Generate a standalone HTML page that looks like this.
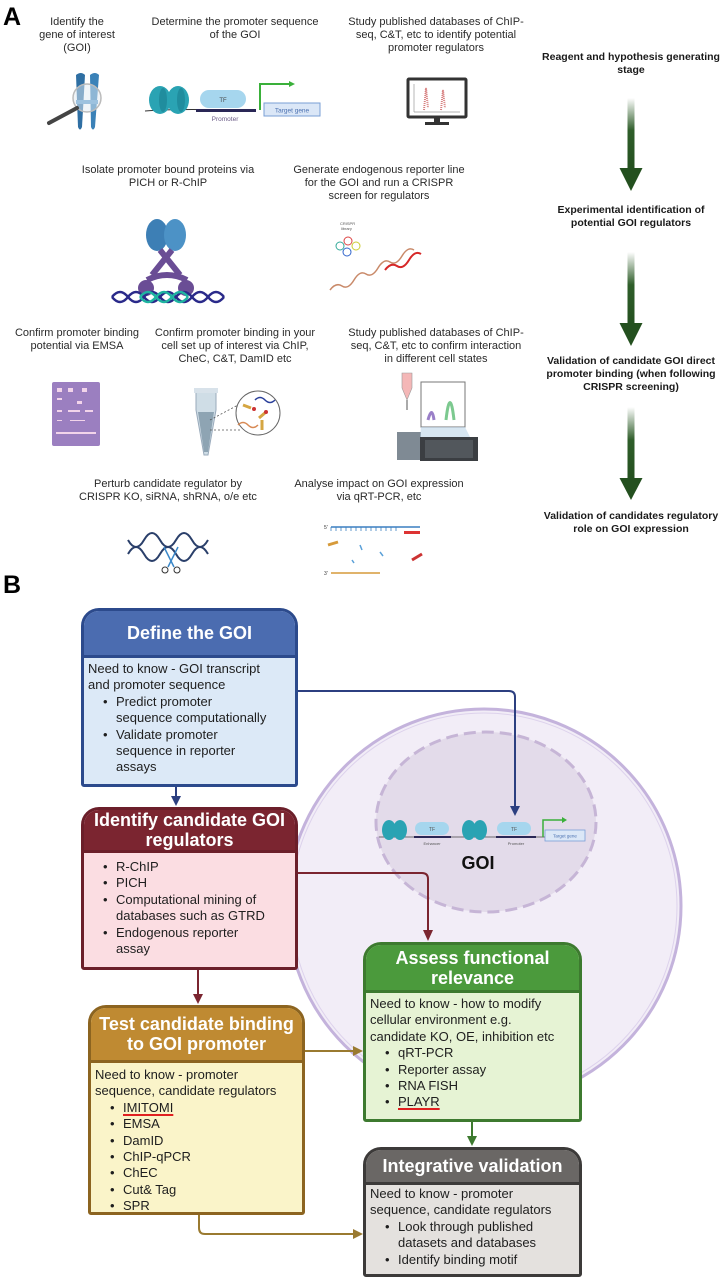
<!DOCTYPE html>
<html><head><meta charset="utf-8">
<style>
*{margin:0;padding:0;box-sizing:border-box}
body{width:725px;height:1280px;background:#fff;position:relative;overflow:hidden;font-family:"Liberation Sans",Arial,sans-serif;color:#222}
.t{position:absolute;font-size:11px;line-height:13px;text-align:center;white-space:nowrap;color:#2a2a2a}
.b{font-weight:bold;font-size:10.5px;color:#1a1a1a}
.lab{position:absolute;font-weight:bold;font-size:25px;color:#000}
.box{position:absolute;border:3px solid;border-radius:18px 18px 3px 3px;overflow:hidden}
.hd{color:#fff;font-weight:bold;font-size:18px;line-height:20px;text-align:center;display:flex;align-items:center;justify-content:center;border-bottom:3px solid}
.bd{font-size:13px;line-height:16.4px;padding-left:4px;white-space:nowrap;color:#1e1e1e}
.bd ul{list-style:none;padding-left:28px}
.bd li{position:relative}
.bd li:before{content:"•";position:absolute;left:-13px}
.u{text-decoration:underline;text-decoration-color:#e02020;text-decoration-thickness:2px;text-underline-offset:2px}
svg{position:absolute;left:0;top:0}
</style></head><body>

<div class="lab" style="left:3px;top:3px">A</div>
<div class="lab" style="left:3px;top:571px">B</div>

<div class="t" style="left:17px;top:16px;width:120px">Identify the<br>gene of interest<br>(GOI)</div>
<div class="t" style="left:135px;top:16px;width:200px">Determine the promoter sequence<br>of the GOI</div>
<div class="t" style="left:326px;top:16px;width:220px">Study published databases of ChIP-<br>seq, C&amp;T, etc to identify potential<br>promoter regulators</div>
<div class="t" style="left:58px;top:164px;width:220px">Isolate promoter bound proteins via<br>PICH or R-ChIP</div>
<div class="t" style="left:279px;top:164px;width:200px">Generate endogenous reporter line<br>for the GOI and run a CRISPR<br>screen for regulators</div>
<div class="t" style="left:2px;top:327px;width:150px">Confirm promoter binding<br>potential via EMSA</div>
<div class="t" style="left:135px;top:327px;width:200px">Confirm promoter binding in your<br>cell set up of interest via ChIP,<br>CheC, C&amp;T, DamID etc</div>
<div class="t" style="left:326px;top:327px;width:220px">Study published databases of ChIP-<br>seq, C&amp;T, etc to confirm interaction<br>in different cell states</div>
<div class="t" style="left:58px;top:478px;width:220px">Perturb candidate regulator by<br>CRISPR KO, siRNA, shRNA, o/e etc</div>
<div class="t" style="left:279px;top:478px;width:200px">Analyse impact on GOI expression<br>via qRT-PCR, etc</div>

<div class="t b" style="left:536px;top:51px;width:190px">Reagent and hypothesis generating<br>stage</div>
<div class="t b" style="left:536px;top:204px;width:190px">Experimental identification of<br>potential GOI regulators</div>
<div class="t b" style="left:536px;top:355px;width:190px">Validation of candidate GOI direct<br>promoter binding (when following<br>CRISPR screening)</div>
<div class="t b" style="left:536px;top:510px;width:190px">Validation of candidates regulatory<br>role on GOI expression</div>

<svg width="725" height="580" viewBox="0 0 725 580">
<defs>
<linearGradient id="ga" x1="0" y1="0" x2="0" y2="1"><stop offset="0" stop-color="#2f5e2a" stop-opacity="0"/><stop offset="0.45" stop-color="#2f5e2a"/><stop offset="1" stop-color="#24501f"/></linearGradient>
</defs>
<rect x="627.5" y="98" width="7" height="72" fill="url(#ga)"/><polygon points="619.5,168 642.5,168 631,191" fill="#24501f"/>
<rect x="627.5" y="252" width="7" height="73" fill="url(#ga)"/><polygon points="619.5,323 642.5,323 631,346" fill="#24501f"/>
<rect x="627.5" y="407" width="7" height="73" fill="url(#ga)"/><polygon points="619.5,478 642.5,478 631,500" fill="#24501f"/>

<g>
<path d="M76,75 q5,-4 9,0 l-3,52 q-2,5 -4,0z" fill="#2f6fa3"/>
<path d="M90,75 q5,-4 9,0 l-4,52 q-2,5 -4,0z" fill="#3b82b8"/>
<rect x="76" y="100" width="22" height="4" fill="#5a9bcc"/>
<circle cx="87" cy="98" r="14" fill="#dfe9f2" fill-opacity="0.5" stroke="#bbb" stroke-width="1.5"/>
<line x1="77" y1="108" x2="49" y2="123" stroke="#444" stroke-width="4" stroke-linecap="round"/>
</g>
<g>
<path d="M145,111 q40,-3 110,0" stroke="#333" fill="none" stroke-width="1"/>
<ellipse cx="160" cy="100" rx="11" ry="14" fill="#2aa3b3"/><ellipse cx="163" cy="100" rx="4" ry="12" fill="#1b7f8f" fill-opacity="0.6"/>
<ellipse cx="178" cy="100" rx="11" ry="14" fill="#2aa3b3"/><ellipse cx="181" cy="100" rx="4" ry="12" fill="#1b7f8f" fill-opacity="0.6"/>
<rect x="200" y="90" width="46" height="18" rx="9" fill="#a6d6ee"/>
<text x="223" y="102" font-size="6" text-anchor="middle" fill="#444" font-family="Liberation Sans">TF</text>
<rect x="196" y="109" width="60" height="3" fill="#2a2756"/>
<text x="225" y="121" font-size="6.5" text-anchor="middle" fill="#6a5a86" font-family="Liberation Sans">Promoter</text>
<path d="M260,110 v-26 h30" stroke="#3ab03a" stroke-width="2" fill="none"/><polygon points="289,81 295,84 289,87" fill="#3ab03a"/>
<rect x="264" y="103" width="56" height="13" fill="#dbe7f7" stroke="#7a9fd6"/>
<text x="292" y="112.5" font-size="6.5" text-anchor="middle" fill="#4a70b0" font-family="Liberation Sans">Target gene</text>
</g>
<g>
<rect x="408" y="79" width="58" height="38" rx="1" fill="#fff" stroke="#333" stroke-width="3"/>
<line x1="414" y1="84" x2="414" y2="112" stroke="#999" stroke-width="0.7"/>
<line x1="414" y1="112" x2="460" y2="112" stroke="#999" stroke-width="0.7"/>
<path d="M424,110 l2,-22 2,20 M441,110 l2,-20 2,18" stroke="#d67b7b" stroke-width="2" fill="none" stroke-dasharray="1 1"/>
<rect x="434" y="117" width="6" height="5" fill="#333"/><rect x="425" y="122" width="24" height="3" fill="#333"/>
</g>
<g>
<ellipse cx="157" cy="235" rx="11" ry="16" fill="#3d7fb5"/><ellipse cx="175" cy="235" rx="11" ry="16" fill="#4c92c6"/>
<path d="M160,250 L180,275 M172,250 L152,275" stroke="#6a4d95" stroke-width="6"/>
<ellipse cx="146" cy="288" rx="8" ry="8" fill="#6a4d95"/><ellipse cx="186" cy="288" rx="8" ry="8" fill="#6a4d95"/>
<path d="M147,280 q20,-10 40,0" stroke="#6a4d95" stroke-width="6" fill="none"/>
<path d="M112,297 q8,-10 16,0 t16,0 t16,0 t16,0 t16,0 t16,0 t16,0" stroke="#2a2a8a" stroke-width="2.5" fill="none"/>
<path d="M112,297 q8,10 16,0 t16,0 t16,0 t16,0 t16,0 t16,0 t16,0" stroke="#2a2a8a" stroke-width="2.5" fill="none"/>
<path d="M140,297 q8,-10 16,0 t16,0 t16,0" stroke="#1fb3a0" stroke-width="2.5" fill="none"/>
<path d="M140,297 q8,10 16,0 t16,0 t16,0" stroke="#1fb3a0" stroke-width="2.5" fill="none"/>
</g>
<g>
<text x="340" y="225" font-size="4" fill="#555">CRISPR</text><text x="341" y="230" font-size="4" fill="#555">library</text>
<circle cx="340" cy="246" r="4" fill="none" stroke="#3a9" stroke-width="1"/><circle cx="348" cy="241" r="4" fill="none" stroke="#d44" stroke-width="1"/><circle cx="356" cy="246" r="4" fill="none" stroke="#cc3" stroke-width="1"/><circle cx="347" cy="252" r="4" fill="none" stroke="#36c" stroke-width="1"/>
<path d="M330,290 q6,-8 12,-4 t12,-6 t12,-6 t12,-6 t12,-6 t12,-6 t12,-6" stroke="#c98a6a" stroke-width="1.5" fill="none"/>
<path d="M385,270 q6,-8 12,-4 t12,-6 t12,-6" stroke="#d62828" stroke-width="2" fill="none"/>
</g>
<g>
<rect x="52" y="382" width="48" height="64" rx="2" fill="#9b7fc0"/>
<g fill="#f2d4ea"><rect x="57" y="388" width="5" height="4"/><rect x="68" y="388" width="5" height="4"/><rect x="82" y="388" width="5" height="4"/><rect x="57" y="398" width="5" height="2"/><rect x="77" y="401" width="5" height="3"/><rect x="57" y="410" width="5" height="2"/><rect x="68" y="410" width="12" height="2"/><rect x="85" y="410" width="8" height="2"/><rect x="57" y="420" width="5" height="1"/><rect x="70" y="420" width="15" height="1"/><rect x="56" y="432" width="40" height="2"/></g>
</g>
<g>
<path d="M196,392 h20 v18 l-8,45 h-4 l-8,-45z" fill="#cfdde6" stroke="#9ab" stroke-width="1"/>
<rect x="194" y="388" width="24" height="5" fill="#d8e2ea"/>
<path d="M198,412 h16 l-6,40 h-4z" fill="#8ea4b3"/>
<circle cx="258" cy="413" r="22" fill="#fff" stroke="#666" stroke-width="1"/>
<path d="M238,425 q5,-5 10,0 t10,0" stroke="#d88a55" stroke-width="1.5" fill="none"/>
<path d="M255,400 q5,-5 10,0 t10,0" stroke="#2a3f9a" stroke-width="1.5" fill="none"/>
<path d="M243,405 l8,3 M259,418 l7,-6 M262,420 v10" stroke="#d5a642" stroke-width="3"/>
<circle cx="254" cy="409" r="2" fill="#c33"/><circle cx="266" cy="412" r="2" fill="#c33"/>
<path d="M210,420 L238,405 M210,430 L240,430" stroke="#555" stroke-width="0.8" stroke-dasharray="2 2"/>
</g>
<g>
<path d="M402,373 h10 v15 l-5,12 l-5,-12z" fill="#f4b7b7" stroke="#999" stroke-width="0.6"/>
<line x1="407" y1="400" x2="407" y2="410" stroke="#555"/>
<rect x="421" y="382" width="44" height="45" fill="#fff" stroke="#777"/>
<path d="M428,420 q4,-15 6,0" stroke="#9a7fc8" stroke-width="3" fill="none"/>
<path d="M446,420 q4,-35 8,0" stroke="#7cc98f" stroke-width="3" fill="none"/>
<rect x="397" y="432" width="24" height="28" fill="#7f8a94"/>
<rect x="420" y="437" width="58" height="24" fill="#3b3e42"/>
<rect x="425" y="440" width="48" height="18" fill="#52575c"/>
<polygon points="421,427 465,427 470,437 420,437" fill="#bcd6e8" fill-opacity="0.6"/>
</g>
<g>
<path d="M128,540 q8,14 16,0 t16,0 t16,0 t16,0 t16,0" stroke="#2a3f6a" stroke-width="2" fill="none"/>
<path d="M128,554 q8,-14 16,0 t16,0 t16,0 t16,0 t16,0" stroke="#2a3f6a" stroke-width="2" fill="none"/>
<path d="M164,547 l10,20 M178,547 l-10,20" stroke="#3b88c9" stroke-width="1.5"/>
<circle cx="165" cy="570" r="3" fill="none" stroke="#333"/><circle cx="177" cy="570" r="3" fill="none" stroke="#333"/>
</g>
<g>
<text x="324" y="529" font-size="5" fill="#333">5'</text>
<line x1="331" y1="527" x2="420" y2="527" stroke="#3a7fc0" stroke-width="1.5"/>
<path d="M331,527 v4 M336,527 v4 M341,527 v4 M346,527 v4 M351,527 v4 M356,527 v4 M361,527 v4 M366,527 v4 M371,527 v4 M376,527 v4 M381,527 v4 M386,527 v4 M391,527 v4 M396,527 v4" stroke="#3a7fc0" stroke-width="0.8"/>
<rect x="404" y="531" width="16" height="3" fill="#d33"/>
<path d="M328,545 l10,-3" stroke="#d69a3a" stroke-width="3"/>
<path d="M360,545 l2,5 M380,552 l3,4 M352,560 l2,3" stroke="#5aa0d8" stroke-width="1.5"/>
<path d="M412,560 l10,-6" stroke="#c33" stroke-width="3"/>
<text x="324" y="575" font-size="5" fill="#333">3'</text>
<line x1="331" y1="573" x2="380" y2="573" stroke="#d69a3a" stroke-width="1.5"/>
</g>
</svg>

<svg width="725" height="1280" viewBox="0 0 725 1280" style="top:0">
<circle cx="484" cy="906" r="197" fill="#f2edf7" stroke="#c4b3dc" stroke-width="3"/>
<circle cx="484" cy="906" r="193" fill="none" stroke="#ddd2ec" stroke-width="1"/>
<ellipse cx="486" cy="822" rx="110" ry="90" fill="#e3dbea" stroke="#c6b5d6" stroke-width="3" stroke-dasharray="12 6"/>
<g>
<line x1="379" y1="837" x2="545" y2="837" stroke="#444" stroke-width="0.8"/>
<ellipse cx="389" cy="830" rx="7" ry="10" fill="#2aa3b3"/><ellipse cx="400" cy="830" rx="7" ry="10" fill="#2aa3b3"/>
<rect x="415" y="822" width="34" height="13" rx="6.5" fill="#a6d6ee"/><text x="432" y="831" font-size="5" text-anchor="middle" fill="#555" font-family="Liberation Sans">TF</text>
<rect x="414" y="836" width="37" height="2" fill="#2a2756"/>
<text x="432" y="845" font-size="4" text-anchor="middle" fill="#555" font-family="Liberation Sans">Enhancer</text>
<ellipse cx="469" cy="830" rx="7" ry="10" fill="#2aa3b3"/><ellipse cx="480" cy="830" rx="7" ry="10" fill="#2aa3b3"/>
<rect x="497" y="822" width="34" height="13" rx="6.5" fill="#a6d6ee"/><text x="514" y="831" font-size="5" text-anchor="middle" fill="#555" font-family="Liberation Sans">TF</text>
<rect x="496" y="836" width="40" height="2" fill="#2a2756"/>
<text x="516" y="845" font-size="4" text-anchor="middle" fill="#555" font-family="Liberation Sans">Promoter</text>
<path d="M543,837 v-17 h20" stroke="#3ab03a" stroke-width="1.5" fill="none"/><polygon points="562,817 567,820 562,823" fill="#3ab03a"/>
<rect x="545" y="830" width="40" height="11" fill="#dbe7f7" stroke="#7a9fd6" stroke-width="0.8"/>
<text x="565" y="837.5" font-size="4.5" text-anchor="middle" fill="#4a70b0" font-family="Liberation Sans">Target gene</text>
<text x="478" y="869" font-size="18" font-weight="bold" text-anchor="middle" fill="#111" font-family="Liberation Sans">GOI</text>
</g>
</svg>

<div class="box" style="left:81px;top:608px;width:217px;height:179px;border-color:#2c4a8c;background:#dce9f7">
 <div class="hd" style="height:47px;background:#4b6cb0;border-color:#2c4a8c">Define the GOI</div>
 <div class="bd" style="padding-top:3px">Need to know - GOI transcript<br>and promoter sequence
  <ul><li>Predict promoter<br>sequence computationally</li><li>Validate promoter<br>sequence in reporter<br>assays</li></ul></div>
</div>

<div class="box" style="left:81px;top:807px;width:217px;height:163px;border-color:#6b1f2a;background:#fbdde2">
 <div class="hd" style="height:43px;background:#7b2530;border-color:#6b1f2a">Identify candidate GOI<br>regulators</div>
 <div class="bd" style="padding-top:6px">
  <ul><li>R-ChIP</li><li>PICH</li><li>Computational mining of<br>databases such as GTRD</li><li>Endogenous reporter<br>assay</li></ul></div>
</div>

<div class="box" style="left:88px;top:1005px;width:217px;height:210px;border-color:#8c6420;background:#faf4c9">
 <div class="hd" style="height:55px;background:#bf8a32;border-color:#8c6420">Test candidate binding<br>to GOI promoter</div>
 <div class="bd" style="padding-top:4px">Need to know - promoter<br>sequence, candidate regulators
  <ul><li><span class="u">IMITOMI</span></li><li>EMSA</li><li>DamID</li><li>ChIP-qPCR</li><li>ChEC</li><li>Cut&amp; Tag</li><li>SPR</li></ul></div>
</div>

<div class="box" style="left:363px;top:942px;width:219px;height:180px;border-color:#3d7a2f;background:#e6f3d4">
 <div class="hd" style="height:48px;background:#4b9a3c;border-color:#3d7a2f">Assess functional<br>relevance</div>
 <div class="bd" style="padding-top:3px">Need to know - how to modify<br>cellular environment e.g.<br>candidate KO, OE, inhibition etc
  <ul><li>qRT-PCR</li><li>Reporter assay</li><li>RNA FISH</li><li><span class="u">PLAYR</span></li></ul></div>
</div>

<div class="box" style="left:363px;top:1147px;width:219px;height:130px;border-color:#3c3a39;background:#e4e1de">
 <div class="hd" style="height:35px;background:#6a6765;border-color:#3c3a39">Integrative validation</div>
 <div class="bd" style="padding-top:1px">Need to know - promoter<br>sequence, candidate regulators
  <ul><li>Look through published<br>datasets and databases</li><li>Identify binding motif</li></ul></div>
</div>

<svg width="725" height="1280" viewBox="0 0 725 1280">
<g fill="none" stroke-width="2">
<path d="M298,691 H509 q6,0 6,6 V808" stroke="#2c3f80"/>
<path d="M176,787 V798" stroke="#2c3f80"/>
<path d="M298,873 H422 q6,0 6,6 V932" stroke="#7b2530"/>
<path d="M198,970 V996" stroke="#7b2530"/>
<path d="M305,1051 H355" stroke="#9a7a30"/>
<path d="M199,1215 V1228 q0,6 6,6 H355" stroke="#9a7a30"/>
<path d="M472,1122 V1138" stroke="#3d7a2f"/>
</g>
<polygon points="510,806 520,806 515,816" fill="#2c3f80"/>
<polygon points="171,796 181,796 176,806" fill="#2c3f80"/>
<polygon points="423,930 433,930 428,941" fill="#7b2530"/>
<polygon points="193,994 203,994 198,1004" fill="#7b2530"/>
<polygon points="353,1046 353,1056 363,1051" fill="#9a7a30"/>
<polygon points="353,1229 353,1239 363,1234" fill="#9a7a30"/>
<polygon points="467,1136 477,1136 472,1146" fill="#3d7a2f"/>
</svg>

</body></html>
